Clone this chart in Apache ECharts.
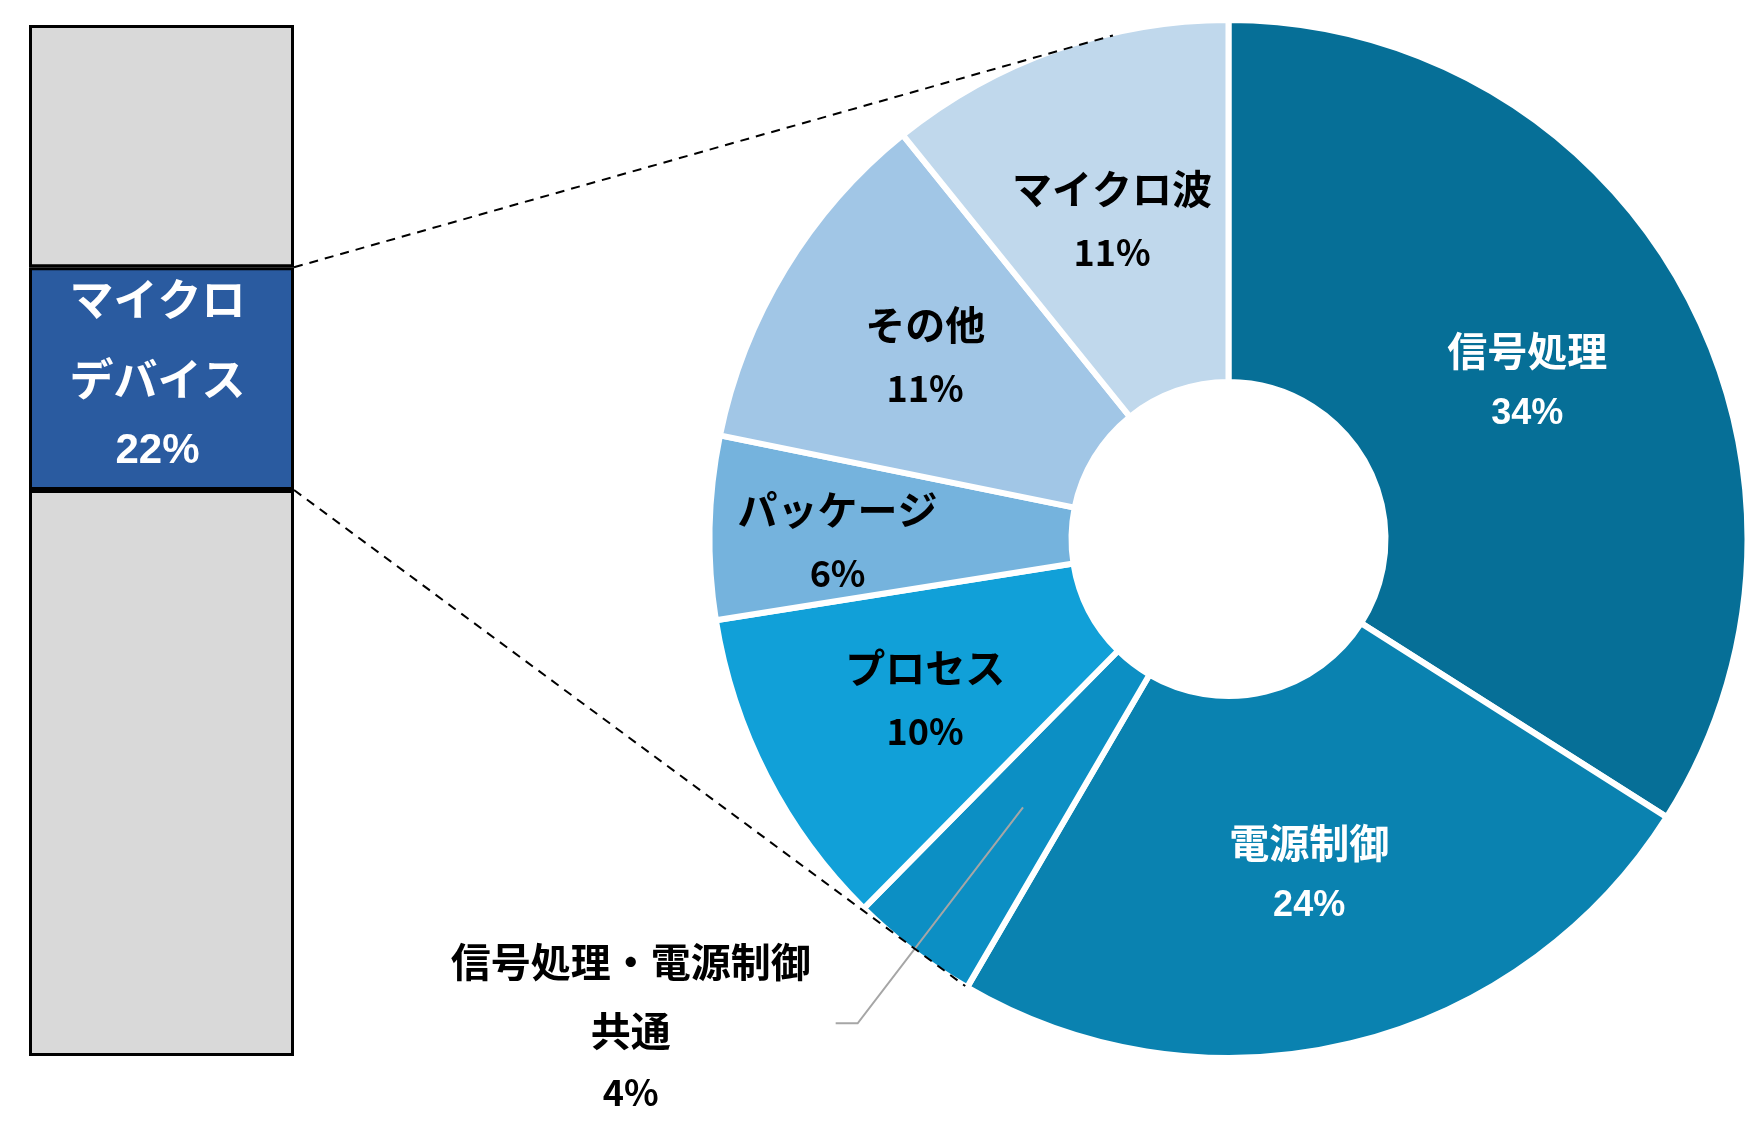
<!DOCTYPE html>
<html>
<head>
<meta charset="utf-8">
<script src="https://cdn.jsdelivr.net/npm/echarts@6/dist/echarts.min.js"></script>
<style>
html, body { margin: 0; padding: 0; background: #fff; }
#chart { width: 1758px; height: 1134px; }
</style>
</head>
<body>
<div id="chart"></div>
<script>
// left bar, stacked bottom -> top
const barParts = ['その他（下）', 'マイクロデバイス', 'その他（上）'];
const barValues = [54.9, 21.6, 23.5];
const barLabel = 'マイクロ\nデバイス';

// donut, clockwise from 12 o'clock
const pieNames = ['信号処理', '電源制御', '信号処理・電源制御\n共通', 'プロセス', 'パッケージ', 'その他', 'マイクロ波'];
const pieValues = [34, 24.4, 4, 10.1, 5.7, 11, 10.8];

// styles
const barColors = ['#d9d9d9', '#2a5ba0', '#d9d9d9'];
const pieColors = ['#066f97', '#0a82b0', '#0c8fc4', '#11a0d8', '#75b3dd', '#a1c6e6', '#c0d8ec'];
const pieTextWhite = [true, true, false, false, false, false, false];
const pieLabelNudge = [[0, 8], [0, 4], [0, 0], [0, 5], [-50, 10], [-12, -5], [-3, 3]];
const outsideIndex = 2; // 共通 gets the leader line

const CJK = '"Noto Sans CJK JP", sans-serif';
const LAT = '"Liberation Sans", Arial, sans-serif';

const cx = 1228.5, cy = 539;
const rIn = 157, rOut = 519, gapW = 6;

const chart = echarts.init(document.getElementById('chart'));

const barSeries = barValues.map((v, i) => ({
  type: 'bar',
  name: barParts[i],
  stack: 'all',
  barWidth: '100%',
  data: [v],
  itemStyle: { color: barColors[i], borderColor: '#000', borderWidth: 3 },
  label: i === 1 ? {
    show: true,
    position: 'inside',
    offset: [-4, -7],
    formatter: p => barLabel.split('\n').map(s => `{n|${s}}`).join('\n') + `\n{p|${Math.round(p.value)}%}`,
    rich: {
      n: { fontFamily: CJK, fontWeight: 'bold', fontSize: 44, lineHeight: 80, color: '#fff' },
      p: { fontFamily: LAT, fontWeight: 'bold', fontSize: 42, lineHeight: 64, color: '#fff' }
    }
  } : { show: false },
  silent: true
}));

const mainPie = {
  type: 'pie',
  center: [cx, cy],
  radius: [rIn, rOut],
  startAngle: 90,
  clockwise: true,
  avoidLabelOverlap: false,
  silent: true,
  itemStyle: { borderColor: '#fff', borderWidth: gapW },
  label: {
    show: true,
    position: 'inside',
    formatter: p => {
      const k = pieTextWhite[p.dataIndex] ? 'w' : 'b';
      return `{n${k}|${p.name}}\n{p${k}|${Math.round(p.value)}%}`;
    },
    rich: {
      nw: { fontFamily: CJK, fontWeight: 'bold', fontSize: 40, lineHeight: 63, color: '#fff' },
      pw: { fontFamily: LAT, fontWeight: 'bold', fontSize: 36, lineHeight: 63, color: '#fff' },
      nb: { fontFamily: CJK, fontWeight: 'bold', fontSize: 40, lineHeight: 63, color: '#000' },
      pb: { fontFamily: CJK, fontWeight: 'bold', fontSize: 36, lineHeight: 63, color: '#000' }
    }
  },
  labelLine: { show: false },
  data: pieValues.map((v, i) => ({
    name: pieNames[i],
    value: v,
    itemStyle: { color: pieColors[i] },
    label: i === outsideIndex ? { show: false } : { offset: pieLabelNudge[i] }
  }))
};

// transparent copy out to mid radius, only used to start the leader line inside the slice
const midR = (rIn + rOut) / 2;
const leaderPie = {
  type: 'pie',
  center: [cx, cy],
  radius: [0, midR],
  startAngle: 90,
  clockwise: true,
  avoidLabelOverlap: false,
  silent: true,
  z: 3,
  itemStyle: { color: 'rgba(0,0,0,0)', borderWidth: 0 },
  label: { show: false },
  labelLine: { show: false },
  data: pieValues.map((v, i) => i !== outsideIndex ? { name: pieNames[i], value: v } : {
    name: pieNames[i],
    value: v,
    label: {
      show: true,
      position: 'outside',
      distanceToLabelLine: 25,
      formatter: p => {
        const parts = p.name.split('\n');
        return `{a|${parts[0]}}\n{b|${parts[1]}}\n{c|${Math.round(p.value)}%}`;
      },
      rich: {
        a: { fontFamily: CJK, fontWeight: 'bold', fontSize: 40, lineHeight: 70, color: '#000', align: 'center' },
        b: { fontFamily: CJK, fontWeight: 'bold', fontSize: 40, lineHeight: 68, color: '#000', align: 'center' },
        c: { fontFamily: CJK, fontWeight: 'bold', fontSize: 36, lineHeight: 56, color: '#000', align: 'center' }
      }
    },
    labelLine: {
      show: true,
      length: 272,
      length2: 22,
      smooth: false,
      lineStyle: { color: '#a6a6a6', width: 2 }
    }
  })
};

chart.setOption({
  animation: false,
  backgroundColor: '#fff',
  grid: { left: 29, top: 25, width: 265, height: 1031 },
  xAxis: { type: 'category', data: ['x'], show: false },
  yAxis: { type: 'value', min: 0, max: 100, show: false },
  series: [...barSeries, mainPie, leaderPie]
});

// dashed zoom lines: from the blue block corners, tangent to the donut
const lay = chart.getModel().getSeriesByIndex(1).getData().getItemLayout(0);
const right = lay.x + lay.width;
const yTop = Math.min(lay.y, lay.y + lay.height);
const yBot = Math.max(lay.y, lay.y + lay.height);
const R = rOut - gapW / 2;

function tangentLine(p, upper, extra) {
  const dx = p[0] - cx, dy = p[1] - cy, d = Math.hypot(dx, dy);
  const a = Math.atan2(dy, dx) + (upper ? 1 : -1) * Math.acos(R / d);
  const t = [cx + R * Math.cos(a), cy + R * Math.sin(a)];
  const len = Math.hypot(t[0] - p[0], t[1] - p[1]);
  const ux = (t[0] - p[0]) / len, uy = (t[1] - p[1]) / len;
  return [p, [t[0] + ux * extra, t[1] + uy * extra]];
}

const dashStyle = { stroke: '#000', lineWidth: 2, lineDash: [9, 7] };
const lines = [tangentLine([right, yTop], true, 26), tangentLine([right, yBot], false, 54)];
chart.setOption({
  graphic: lines.map(l => ({
    type: 'line',
    z: 100,
    silent: true,
    shape: { x1: l[0][0], y1: l[0][1], x2: l[1][0], y2: l[1][1] },
    style: dashStyle
  }))
});
</script>
</body>
</html>
